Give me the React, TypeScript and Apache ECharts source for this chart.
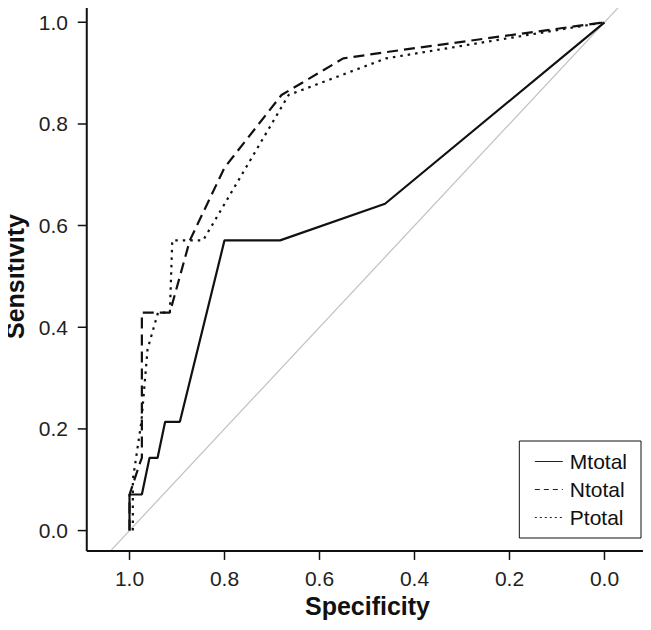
import React, { useEffect, useRef } from "react";
import * as echarts from "echarts";

// ROC curves: specificity (x, reversed) vs sensitivity (y)
const mSpec = [1.0, 1.0, 0.974, 0.958, 0.941, 0.925, 0.894, 0.8, 0.683, 0.462, 0.0];
const mSens = [0.0, 0.071, 0.071, 0.143, 0.143, 0.214, 0.214, 0.571, 0.571, 0.643, 1.0];

const nSpec = [1.0, 1.0, 0.978, 0.974, 0.974, 0.915, 0.873, 0.8, 0.68, 0.55, 0.47, 0.0];
const nSens = [0.0, 0.071, 0.133, 0.143, 0.429, 0.429, 0.571, 0.714, 0.857, 0.929, 0.94, 1.0];

const pSpec = [0.993, 0.993, 0.975, 0.962, 0.94, 0.915, 0.91, 0.845, 0.665, 0.46, 0.0];
const pSens = [0.0, 0.1, 0.214, 0.357, 0.429, 0.429, 0.571, 0.571, 0.857, 0.929, 1.0];

// diagonal reference line, drawn inside the plot frame
const refSpec = [1.04, -0.04];
const refSens = [-0.04, 1.04];

// plot frame extent (data units)
const frameX = [-0.09, 1.09];
const frameY = [-0.04, 1.04];
// axis extents (a little wider than the frame so frame and ticks sit inside the grid)
const axisX = [-0.1232, 1.1211];
const axisY = [-0.0677, 1.0675];

const tickValues = [0, 0.2, 0.4, 0.6, 0.8, 1.0];
const seriesNames = ["Mtotal", "Ntotal", "Ptotal"];

const zip = (a: number[], b: number[]) => a.map((v, i) => [v, b[i]]);

export default function App() {
  const ref = useRef<HTMLDivElement>(null);
  useEffect(() => {
    if (!ref.current) return;
    const chart = echarts.init(ref.current, undefined, { renderer: "svg" });
    const font = "Liberation Sans, Arial, sans-serif";
    const label = (margin: number) => ({
      customValues: tickValues.slice(),
      margin,
      fontFamily: font,
      fontSize: 21,
      color: "#222",
      formatter: (v: number) => v.toFixed(1),
    });
    const nameStyle = () => ({ fontFamily: font, fontWeight: "bold", fontSize: 25, color: "#111" });
    const lineDefs = [
      { name: seriesNames[0], data: zip(mSpec, mSens), type: "solid" as any, legendType: "solid" as any },
      { name: seriesNames[1], data: zip(nSpec, nSens), type: [11, 6] as any, legendType: [5, 4] as any },
      { name: seriesNames[2], data: zip(pSpec, pSens), type: [2.5, 5] as any, legendType: [2, 3] as any },
    ];

    // grid size in px (container 651 x 630; grid left 72, right -12, top -12, bottom 65)
    const gridW = 651 - 72 + 12;
    const gridH = 630 + 12 - 65;
    const xTickLen = (9 / gridW) * (axisX[1] - axisX[0]);
    const yTickLen = (9 / gridH) * (axisY[1] - axisY[0]);
    const deco = (name: string, data: number[][], width: number) => ({
      type: "line",
      name,
      data,
      symbol: "none",
      silent: true,
      clip: false,
      z: 6,
      lineStyle: { color: "#111", width, type: "solid" },
    });
    const frameData = [
      [frameX[1], frameY[0]],
      [frameX[1], frameY[1]],
      [frameX[0], frameY[1]],
      [frameX[0], frameY[0]],
      [frameX[1], frameY[0]],
    ];
    const tickSeries: any[] = [];
    tickValues.forEach((v, i) => {
      tickSeries.push(deco("xtick" + i, [[v, frameY[0]], [v, frameY[0] - yTickLen]], 1.5));
      tickSeries.push(deco("ytick" + i, [[frameX[1], v], [frameX[1] + xTickLen, v]], 1.5));
    });

    chart.setOption({
      animation: false,
      grid: {
        left: 72,
        right: -12,
        top: -12,
        bottom: 65,
        show: false,
        outerBoundsMode: "none",
      },
      xAxis: {
        type: "value",
        inverse: true,
        min: axisX[0],
        max: axisX[1],
        name: "Specificity",
        nameLocation: "middle",
        nameGap: 25,
        nameTextStyle: nameStyle(),
        axisLine: { show: false, onZero: false },
        splitLine: { show: false },
        axisTick: { show: false },
        axisLabel: label(3),
      },
      yAxis: {
        type: "value",
        min: axisY[0],
        max: axisY[1],
        name: "Sensitivity",
        nameLocation: "middle",
        nameGap: 44,
        nameTextStyle: nameStyle(),
        axisLine: { show: false, onZero: false },
        splitLine: { show: false },
        axisTick: { show: false },
        axisLabel: label(4),
      },
      legend: {
        orient: "vertical",
        right: 10,
        bottom: 92,
        padding: [10, 14, 10, 15],
        borderColor: "#111",
        borderWidth: 1,
        backgroundColor: "#fff",
        itemWidth: 28,
        itemHeight: 14,
        itemGap: 7,
        textStyle: { fontFamily: font, fontSize: 21, color: "#111", lineHeight: 20, padding: [0, 0, 0, 2] },
        data: lineDefs.map((d) => ({
          name: d.name,
          itemStyle: { color: "rgba(0,0,0,0)", borderWidth: 0, opacity: 0 },
          lineStyle: { type: d.legendType, width: 1, color: "#222" },
        })),
      },
      series: [
        {
          type: "line",
          name: "reference",
          data: zip(refSpec, refSens),
          symbol: "none",
          silent: true,
          clip: false,
          lineStyle: { color: "#c0c0c0", width: 1.2 },
          z: 1,
        },
        ...lineDefs.map((d) => ({
          type: "line",
          name: d.name,
          data: d.data,
          symbol: "none",
          clip: false,
          lineStyle: { color: "#111", width: 2.2, type: d.type },
          itemStyle: { color: "#111" },
          z: 3,
        })),
        deco("frame", frameData, 2),
        ...tickSeries,
      ],
    });
    return () => chart.dispose();
  }, []);
  return <div ref={ref} style={{ width: 651, height: 630, marginLeft: -8, marginTop: -8 }} />;
}
